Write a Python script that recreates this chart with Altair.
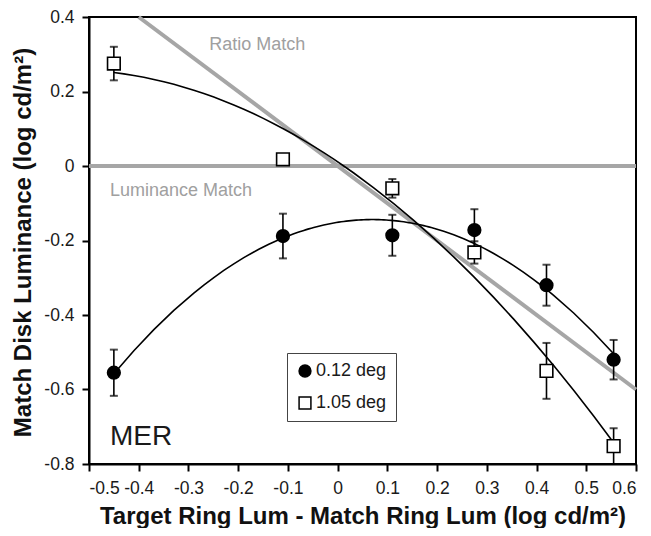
import altair as alt
import pandas as pd

# ---- data ----
x_vals = [-0.45, -0.11, 0.11, 0.275, 0.42, 0.555]
small_y = [-0.555, -0.188, -0.186, -0.172, -0.32, -0.52]
small_err = [0.062, 0.06, 0.055, 0.056, 0.055, 0.053]
large_y = [0.275, 0.018, -0.06, -0.232, -0.55, -0.752]
large_err = [0.045, 0.01, 0.025, 0.03, 0.075, 0.048]
series_names = ["0.12 deg", "1.05 deg"]

ratio_x = [-0.4, 0.6]
ratio_y = [0.4, -0.6]
lum_x = [-0.5, 0.6]
lum_y = [0.0, 0.0]

x_ticks = [-0.5, -0.4, -0.3, -0.2, -0.1, 0, 0.1, 0.2, 0.3, 0.4, 0.5, 0.6]
y_ticks = [-0.8, -0.6, -0.4, -0.2, 0, 0.2, 0.4]

note_text = ["Ratio Match", "Luminance Match", "MER"]
note_x = [-0.258, -0.458, -0.458]
note_y = [0.311, -0.081, -0.75]
note_size = [18, 18, 28]
note_color = ["#a0a0a0", "#a0a0a0", "#1a1a1a"]

FONT = "Liberation Sans"

# ---- tables ----
rows = []
for name, ys, es in [(series_names[0], small_y, small_err), (series_names[1], large_y, large_err)]:
    for xv, yv, ev in zip(x_vals, ys, es):
        rows.append({"x": xv, "y": yv, "lo": yv - ev, "hi": yv + ev, "series": name})
pts = pd.DataFrame(rows)

lines = pd.DataFrame(
    [{"x": a, "y": b, "line": "ratio"} for a, b in zip(ratio_x, ratio_y)]
    + [{"x": a, "y": b, "line": "lum"} for a, b in zip(lum_x, lum_y)]
)
notes = pd.DataFrame({"x": note_x, "y": note_y, "text": note_text,
                      "size": note_size, "color": note_color})

xscale = alt.Scale(domain=[-0.5, 0.6], nice=False, zero=False)
yscale = alt.Scale(domain=[-0.8, 0.4], nice=False, zero=False)

xaxis = alt.Axis(values=x_ticks, title="Target Ring Lum - Match Ring Lum (log cd/m²)",
                 labelExpr="datum.value == 0 ? '0' : toString(round(datum.value*10)/10)",
                 titleY=59, titleBaseline="alphabetic")
yaxis = alt.Axis(values=y_ticks, title="Match Disk Luminance (log cd/m²)",
                 labelExpr="datum.value == 0 ? '0' : toString(round(datum.value*10)/10)",
                 titleX=-59, titleY=225, titleAlign="center", titleBaseline="alphabetic")

X = alt.X("x:Q", scale=xscale, axis=xaxis)
Y = alt.Y("y:Q", scale=yscale, axis=yaxis)

gray = alt.Chart(lines).mark_line(color="#a6a6a6", strokeWidth=4).encode(
    x=X, y=Y, detail="line:N")

curves = alt.Chart(pts).transform_regression(
    "x", "y", groupby=["series"], method="poly", order=2, extent=[-0.45, 0.555]
).mark_line(color="black", strokeWidth=1.6).encode(x=X, y=Y, detail="series:N")

stems = alt.Chart(pts).mark_rule(color="black", strokeWidth=1.6).encode(
    x=X, y=alt.Y("lo:Q", scale=yscale, axis=yaxis), y2="hi:Q")
cap_lo = alt.Chart(pts).mark_tick(orient="horizontal", size=8, thickness=2, color="black").encode(
    x=X, y=alt.Y("lo:Q", scale=yscale, axis=yaxis))
cap_hi = alt.Chart(pts).mark_tick(orient="horizontal", size=8, thickness=2, color="black").encode(
    x=X, y=alt.Y("hi:Q", scale=yscale, axis=yaxis))

leg = alt.Legend(title=None, orient="none", legendX=198, legendY=336, padding=9,
                 rowPadding=14, labelFontSize=18, labelFont=FONT, labelColor="#1a1a1a",
                 symbolSize=140, labelOffset=2, strokeColor="#444444", fillColor="white",
                 symbolStrokeColor="black", symbolStrokeWidth=1.5, symbolOpacity=1)

points = alt.Chart(pts).mark_point(filled=True, strokeWidth=1.6, opacity=1, size=160).encode(
    x=X, y=Y,
    shape=alt.Shape("series:N", scale=alt.Scale(domain=series_names, range=["circle", "square"]), legend=leg),
    fill=alt.Fill("series:N", scale=alt.Scale(domain=series_names, range=["black", "white"]), legend=leg),
    stroke=alt.Stroke("series:N", scale=alt.Scale(domain=series_names, range=["black", "black"]), legend=leg),
)

texts = alt.Chart(notes).mark_text(align="left", baseline="alphabetic", font=FONT).encode(
    x=X, y=Y, text="text:N",
    size=alt.Size("size:Q", scale=None),
    color=alt.Color("color:N", scale=None),
)

chart = alt.layer(gray, curves, stems, cap_lo, cap_hi, points, texts).properties(
    width=547, height=447,
    autosize=alt.AutoSizeParams(type="none"),
    padding={"left": 81, "top": 9, "right": 7, "bottom": 64},
).configure_view(stroke="black", strokeWidth=2).configure_axis(
    grid=False, domainColor="black", domainWidth=2, tickColor="black", tickWidth=2,
    tickSize=7, labelFont=FONT, labelFontSize=17.5, labelColor="#1a1a1a", labelPadding=8,
    titleFont=FONT, titleFontSize=24, titleFontWeight="bold", titleColor="#111111",
)

chart.save("out.html", embed_options={"renderer": "svg", "actions": False})
